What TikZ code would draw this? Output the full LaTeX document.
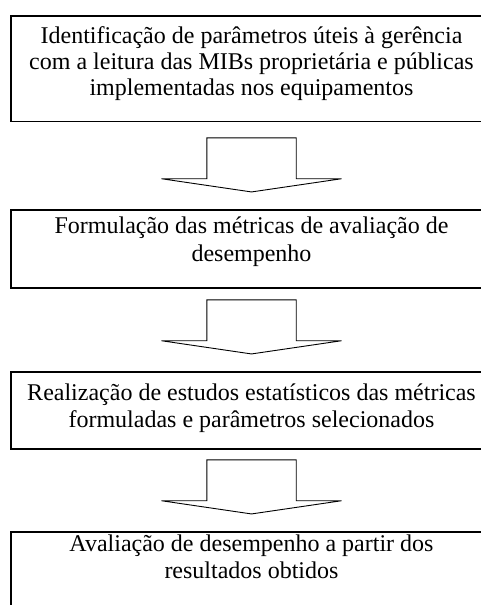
\documentclass[tikz,border=0pt]{standalone}
\usepackage{fontspec}
\setmainfont{Liberation Serif}
\usetikzlibrary{positioning}

\tikzset{
  stagebox/.style={draw, line width=1.1pt, minimum width=481pt, inner sep=0pt},
  stagetext/.style={align=center, inner sep=0pt, anchor=base, font=\fontsize{24}{27.5}\selectfont},
  flowarrow/.style={draw, line width=0.9pt, fill=white, line join=miter},
}

\begin{document}
\begin{tikzpicture}[x=1pt, y=1pt]
  \clip (0,0) rectangle (481,605);
  % etapas
  \node[stagebox, minimum height=105.5pt] (b1) at (251.5,536.25) {};
  \node[stagebox, minimum height=78pt] (b2) at (251.5,356) {};
  \node[stagebox, minimum height=77pt] (b3) at (251.5,194.5) {};
  \node[stagebox, minimum height=83pt] (b4) at (251.5,31.5) {};
  % base = linha de base da ultima linha
  \node[stagetext, font=\fontsize{24}{26}\selectfont] (t1) at ([yshift=-80pt]b1.north)
    {Identificação de parâmetros úteis à gerência\\com a leitura das MIBs proprietária e públicas\\implementadas nos equipamentos};
  \node[stagetext] (t2) at ([yshift=-51.7pt]b2.north)
    {Formulação das métricas de avaliação de\\desempenho};
  \node[stagetext] (t3) at ([yshift=-56.3pt]b3.north)
    {Realização de estudos estatísticos das métricas\\formuladas e parâmetros selecionados};
  \node[stagetext] (t4) at ([yshift=-47.3pt]b4.north)
    {Avaliação de desempenho a partir dos\\resultados obtidos};
  % setas de bloco
  \foreach \nxt in {b2,b3,b4}
    \draw[flowarrow] ([yshift=17.5pt]\nxt.north) -- ++(-90,13.2) -- ++(45.3,0)
      -- ++(0,40.8) -- ++(89.4,0) -- ++(0,-40.8) -- ++(45.3,0) -- cycle;
\end{tikzpicture}
\end{document}
